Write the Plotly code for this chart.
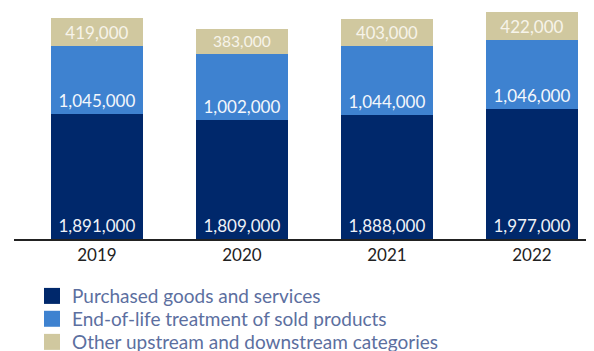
import plotly.graph_objects as go

years = ["2019", "2020", "2021", "2022"]
purchased = [1891000, 1809000, 1888000, 1977000]
end_of_life = [1045000, 1002000, 1044000, 1046000]
other = [419000, 383000, 403000, 422000]

series = [
    ("Purchased goods and services", purchased, "#00286b", "#eef1f7"),
    ("End-of-life treatment of sold products", end_of_life, "#3e82d0", "#f4f7fc"),
    ("Other upstream and downstream categories", other, "#d0c89f", "#f7f4ea"),
]
legend_ids = ["legend", "legend2", "legend3"]
legend_y = [-0.247, -0.346, -0.446]

fig = go.Figure()
for (name, vals, color, txtcolor), lid in zip(series, legend_ids):
    fig.add_trace(go.Bar(
        x=years, y=vals, name=name, showlegend=False,
        marker=dict(color=color, line=dict(width=0)),
        text=[f"{v:,}" for v in vals], textposition="inside",
        insidetextanchor="start", textangle=0,
        textfont=dict(family="Lato", size=17, color=txtcolor),
        hoverinfo="skip",
    ))
    # legend entry with a bigger square swatch
    fig.add_trace(go.Scatter(
        x=[None], y=[None], mode="markers", name=name, legend=lid,
        marker=dict(symbol="square", size=16, color=color),
    ))

# the page body adds 8px offset, so margins are shifted to compensate
fig.update_layout(
    barmode="stack", bargap=0.37,
    width=594, height=351,
    margin=dict(l=6, r=8, t=0, b=120, autoexpand=False),
    plot_bgcolor="white", paper_bgcolor="white",
    font=dict(family="Lato", color="#333333"),
)
for lid, ly in zip(legend_ids, legend_y):
    fig.update_layout({lid: dict(
        x=0.031, y=ly, xanchor="left", yanchor="middle",
        font=dict(family="Lato", size=19, color="#5c6f9f"),
        itemsizing="trace", bgcolor="rgba(0,0,0,0)",
    )})
fig.update_xaxes(
    type="category", range=[-0.572, 3.428], automargin=False,
    showline=True, linecolor="#222222", linewidth=1.5,
    showgrid=False, ticks="", tickangle=0,
    tickfont=dict(family="Lato", size=17, color="#222222"),
)
fig.update_yaxes(range=[0, 3505000], visible=False, showgrid=False, automargin=False)

fig.write_html("out.html")
